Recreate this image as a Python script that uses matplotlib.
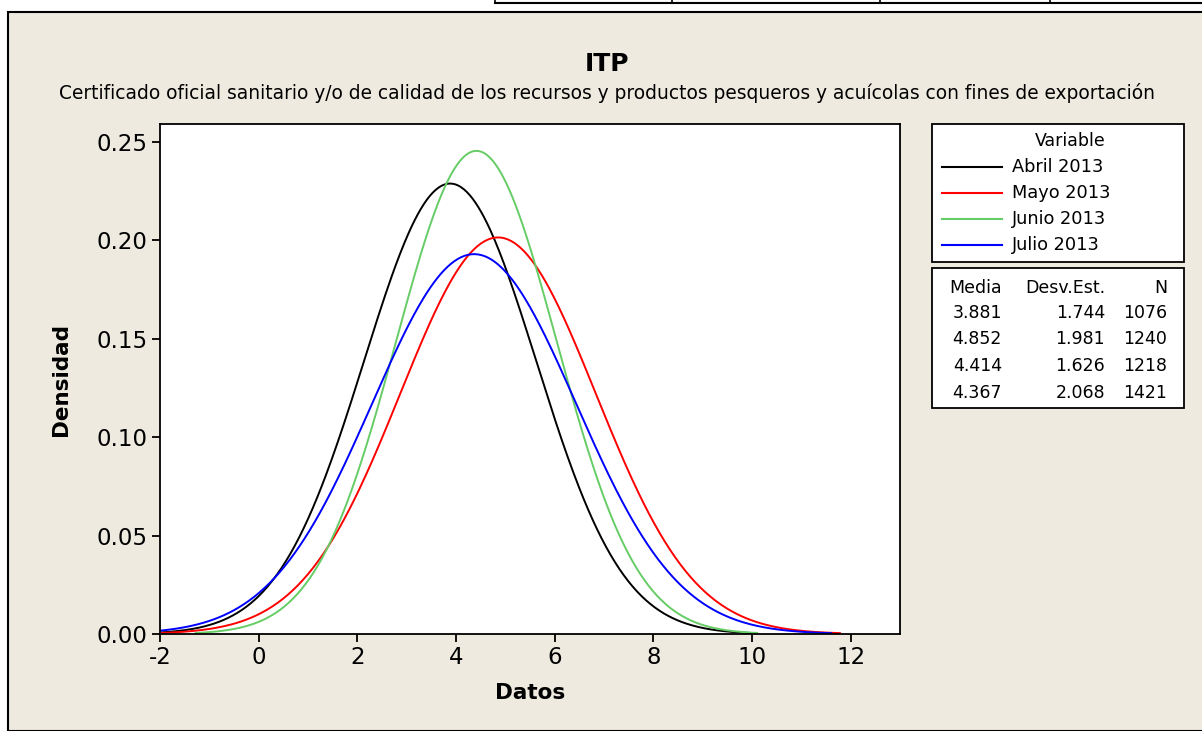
import matplotlib.pyplot as plt
import numpy as np
from matplotlib.patches import Rectangle
from matplotlib.lines import Line2D

# Data (fitted normal distributions)
variables = ["Abril 2013", "Mayo 2013", "Junio 2013", "Julio 2013"]
medias = [3.881, 4.852, 4.414, 4.367]
desv = [1.744, 1.981, 1.626, 2.068]
n_obs = [1076, 1240, 1218, 1421]
colores = ["black", "#ff0000", "#66cc66", "#0000ff"]

xticks = [-2, 0, 2, 4, 6, 8, 10, 12]
yticks = [0.00, 0.05, 0.10, 0.15, 0.20, 0.25]

bg = "#eeeae0"
fig = plt.figure(figsize=(12.02, 7.31), dpi=100)
fig.patch.set_facecolor("white")

# beige panel with black frame
fig.patches.append(Rectangle((8 / 1202, 0), 1.2, 1 - 12 / 731, transform=fig.transFigure,
                             facecolor=bg, edgecolor="black", linewidth=1.5, zorder=-5))
# bit of table visible at top
fig.add_artist(Line2D([495 / 1202, 1], [1 - 3 / 731] * 2, color="black", lw=1.5, transform=fig.transFigure))
for xp in [495, 672, 880, 1050]:
    fig.add_artist(Line2D([xp / 1202] * 2, [1 - 3 / 731, 1], color="black", lw=1.2, transform=fig.transFigure))

ax = fig.add_axes([160 / 1202, 1 - 634 / 731, 740 / 1202, 510 / 731])
ax.set_zorder(2)
ax.set_facecolor("white")

for m, s, c in zip(medias, desv, colores):
    x = np.linspace(max(-2, m - 3.5 * s), m + 3.5 * s, 400)
    y = np.exp(-0.5 * ((x - m) / s) ** 2) / (s * np.sqrt(2 * np.pi))
    ax.plot(x, y, color=c, lw=1.4)

ax.set_xlim(-2, 13)
ax.set_ylim(0, 0.259)
ax.set_xticks(xticks)
ax.set_xticklabels([str(t) for t in xticks])
ax.set_yticks(yticks)
ax.set_yticklabels(["%.2f" % t for t in yticks])
ax.tick_params(labelsize=16.5, length=6, width=1.3, direction="out", pad=3)
for sp in ax.spines.values():
    sp.set_linewidth(1.3)
ax.set_xlabel("Datos", fontsize=15.5, fontweight="bold", labelpad=10)
ax.set_ylabel("Densidad", fontsize=15.5, fontweight="bold", labelpad=18)

fig.text(607 / 1202, 1 - 64 / 731, "ITP", ha="center", va="center", fontsize=18, fontweight="bold")
fig.text(607 / 1202, 1 - 93 / 731,
         "Certificado oficial sanitario y/o de calidad de los recursos y productos pesqueros y acuícolas con fines de exportación",
         ha="center", va="center", fontsize=13.4)

# legend box
fig.patches.append(Rectangle((932 / 1202, 1 - 262 / 731), 252 / 1202, 138 / 731, transform=fig.transFigure,
                             facecolor="white", edgecolor="black", linewidth=1.3, zorder=2))
fig.text(1070 / 1202, 1 - 141 / 731, "Variable", ha="center", va="center", fontsize=12.5, zorder=3)
for i, (v, c) in enumerate(zip(variables, colores)):
    yy = 1 - (167 + i * 26) / 731
    fig.add_artist(Line2D([942 / 1202, 1002 / 1202], [yy, yy], color=c, lw=1.5, transform=fig.transFigure, zorder=3))
    fig.text(1012 / 1202, yy, v, ha="left", va="center", fontsize=12.8, zorder=3)

# stats box
fig.patches.append(Rectangle((932 / 1202, 1 - 408 / 731), 252 / 1202, 140 / 731, transform=fig.transFigure,
                             facecolor="white", edgecolor="black", linewidth=1.3, zorder=2))
hy = 1 - 288 / 731
fig.text(1002 / 1202, hy, "Media", ha="right", va="center", fontsize=12.5, zorder=3)
fig.text(1105 / 1202, hy, "Desv.Est.", ha="right", va="center", fontsize=12.5, zorder=3)
fig.text(1167 / 1202, hy, "N", ha="right", va="center", fontsize=12.5, zorder=3)
for i in range(len(medias)):
    yy = 1 - (313 + i * 26.5) / 731
    fig.text(1002 / 1202, yy, "%.3f" % medias[i], ha="right", va="center", fontsize=12.5, zorder=3)
    fig.text(1105 / 1202, yy, "%.3f" % desv[i], ha="right", va="center", fontsize=12.5, zorder=3)
    fig.text(1167 / 1202, yy, str(n_obs[i]), ha="right", va="center", fontsize=12.5, zorder=3)

fig.savefig("out.png", dpi=100, facecolor=fig.get_facecolor())
